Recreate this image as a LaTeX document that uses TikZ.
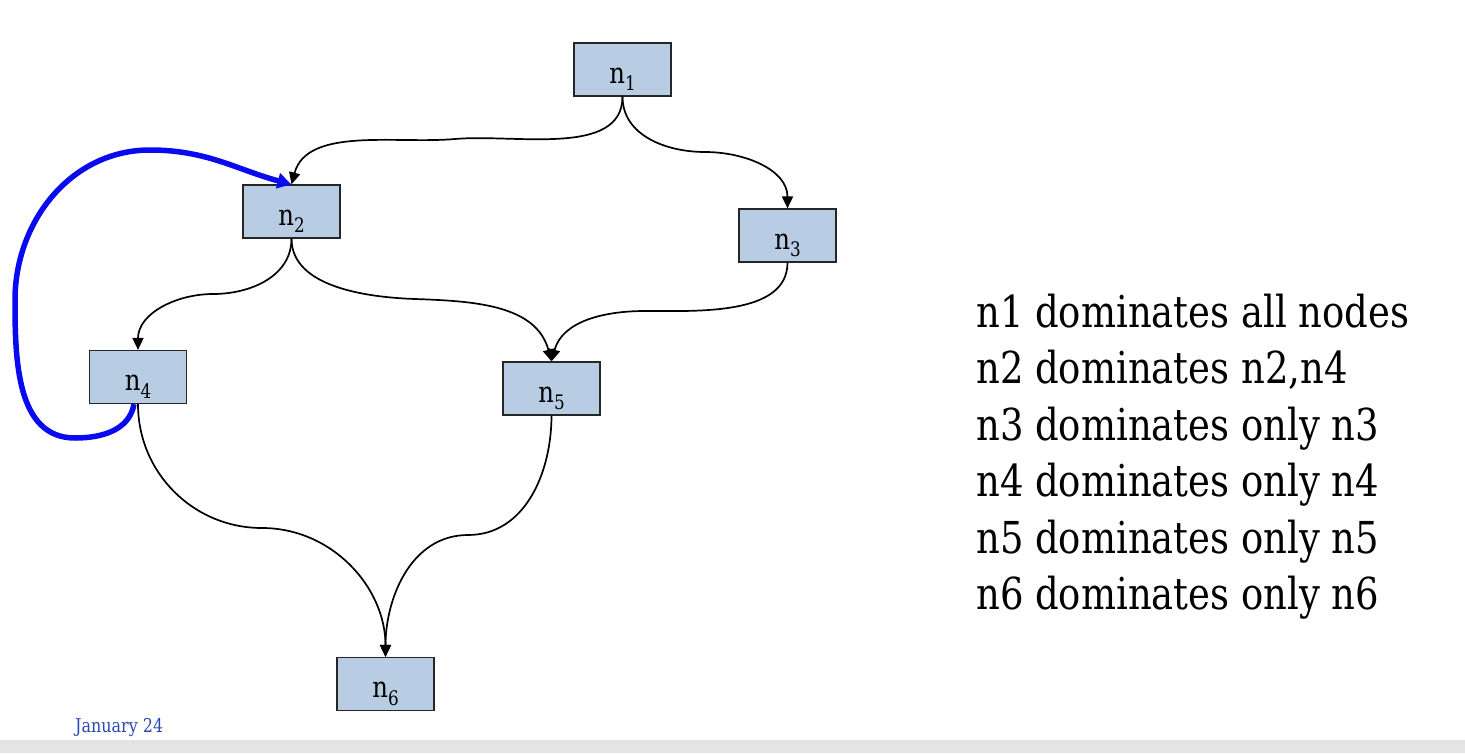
\documentclass[tikz,border=0pt]{standalone}
\usepackage{fontspec}
\setmainfont{DejaVu Serif}[FakeStretch=0.84]
\usetikzlibrary{arrows.meta}
\definecolor{boxfill}{HTML}{B8CCE4}
\definecolor{datecol}{HTML}{2B47B3}
\definecolor{loopblue}{HTML}{0A0AF0}
\definecolor{band}{HTML}{E4E4E4}
\newcommand{\nlab}[1]{\fontsize{29}{30}\selectfont n\raisebox{-0.26em}{\fontsize{20}{20}\selectfont #1}}
\begin{document}
\begin{tikzpicture}[x=1pt,y=-1pt,
  blk/.style={draw=black!85,line width=1.2pt,fill=boxfill,minimum width=97pt,minimum height=53pt,inner sep=0pt,text height=27pt,text depth=0pt},
  edge/.style={draw=black,line width=1.7pt,-{Triangle[length=12pt,width=11pt]}},
  backedge/.style={draw=loopblue,line width=5.5pt,-{Triangle[length=14pt,width=15pt]}},
  txt/.style={anchor=base west,inner sep=0pt,font=\fontsize{44}{50}\selectfont},
  datelab/.style={anchor=base west,inner sep=0pt,text=datecol,font=\fontsize{19}{20}\selectfont}]
\useasboundingbox (0,0) rectangle (1465,753);
\fill[band] (0,740) rectangle (1465,753);
\node[blk] (n1) at (622.5,69.5) {\nlab{1}};
\node[blk] (n2) at (291.5,211.5) {\nlab{2}};
\node[blk] (n3) at (787.5,235.5) {\nlab{3}};
\node[blk] (n4) at (138,377) {\nlab{4}};
\node[blk] (n5) at (551.5,388.5) {\nlab{5}};
\node[blk] (n6) at (385.5,684) {\nlab{6}};
\coordinate (m12) at (455,139);
\coordinate (m13) at (705,152);
\coordinate (m24) at (213,294);
\coordinate (m25) at (415,299);
\coordinate (m35) at (645,311);
\coordinate (m46) at (262,528);
\coordinate (m56) at (468,535);
\draw[edge] (n1.south) to[out=-90,in=5,looseness=0.9] (m12) to[out=185,in=75,looseness=0.9] (n2.north);
\draw[edge] (n1.south) to[out=-90,in=180] (m13) to[out=0,in=90] (n3.north);
\draw[edge] (n2.south) to[out=-90,in=0] (m24) to[out=180,in=90] (n4.north);
\draw[edge] (n2.south) to[out=-90,in=178,looseness=0.9] (m25) to[out=-2,in=105] (n5.north);
\draw[edge] (n3.south) to[out=-90,in=0,looseness=0.9] (m35) to[out=180,in=75] (n5.north);
\draw[edge] (n4.south) to[out=-90,in=180] (m46) to[out=0,in=90] (n6.north);
\draw[edge] (n5.south) to[out=-90,in=0] (m56) to[out=180,in=90] (n6.north);
\coordinate (b1) at (75,438);
\coordinate (b2) at (15,300);
\coordinate (b3) at (150,150);
\draw[backedge] ([xshift=-4pt]n4.south) to[out=-100,in=0] (b1) to[out=180,in=-90] (b2) to[out=90,in=180] (b3) to[out=0,in=165] (n2.north);
\node[txt] (t1) at (976,327) {n1 dominates all nodes};
\node[txt] (t2) at (976,383.5) {n2 dominates n2,n4};
\node[txt] (t3) at (976,440) {n3 dominates only n3};
\node[txt] (t4) at (976,496.5) {n4 dominates only n4};
\node[txt] (t5) at (976,553) {n5 dominates only n5};
\node[txt] (t6) at (976,609.5) {n6 dominates only n6};
\node[datelab] (date) at (75,732) {January 24};
\end{tikzpicture}
\end{document}
